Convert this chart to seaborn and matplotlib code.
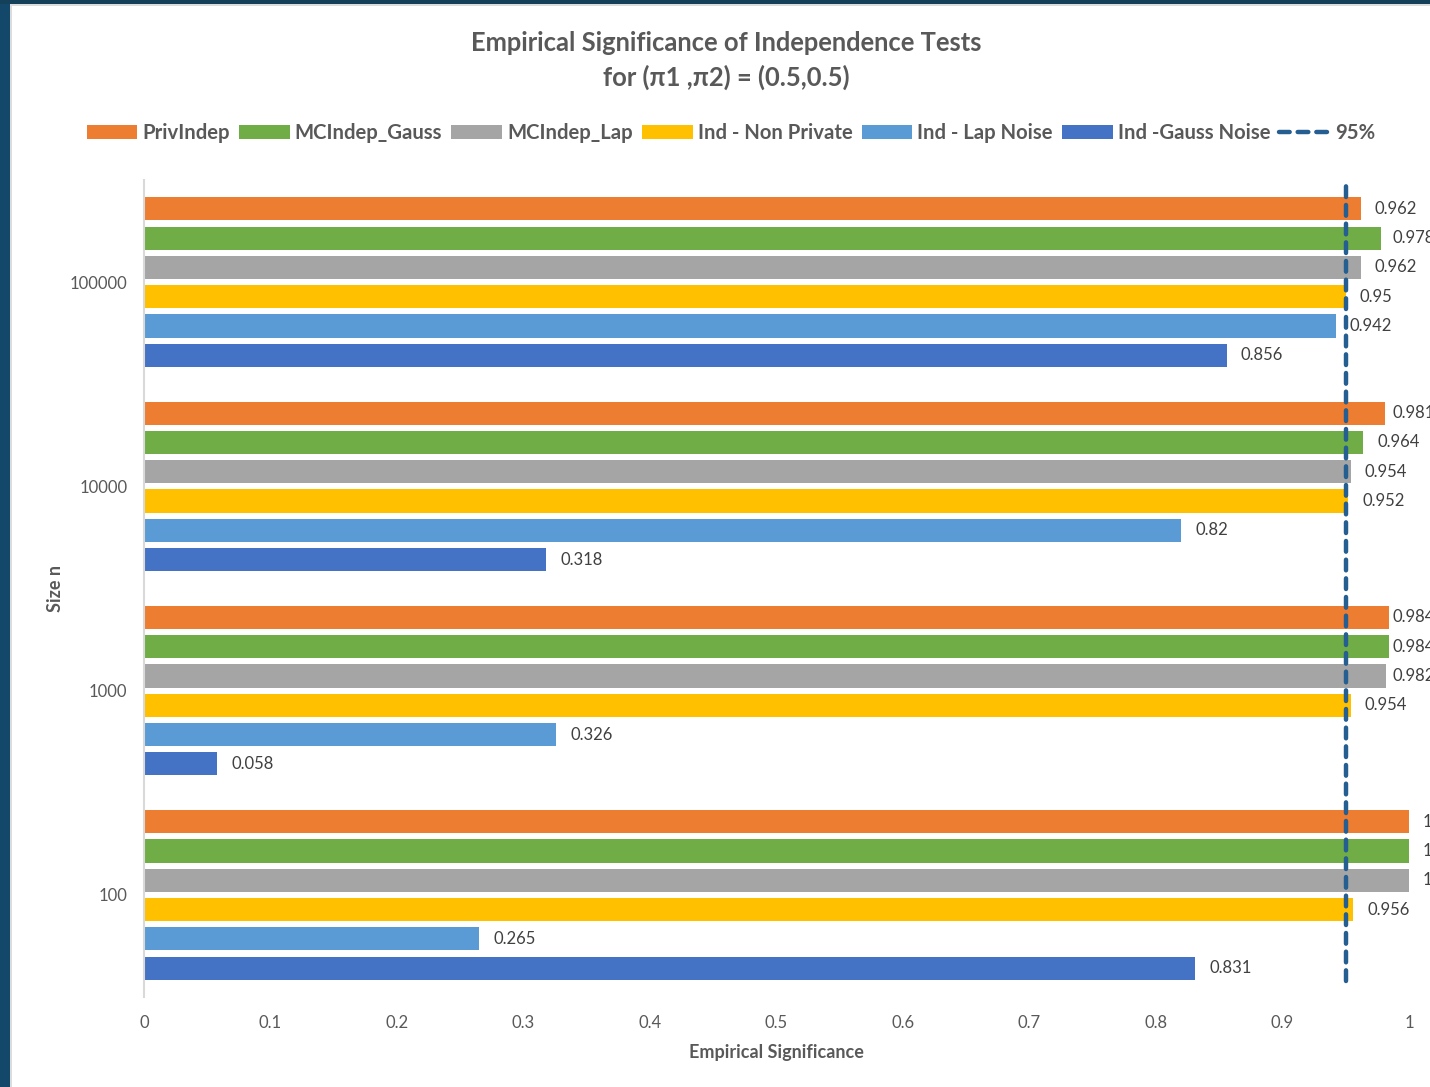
import matplotlib
matplotlib.use("Agg")
import matplotlib.pyplot as plt
from matplotlib.patches import Patch, Rectangle
from matplotlib.lines import Line2D
import seaborn as sns
import pandas as pd

# Sample sizes (one group of bars each, top to bottom)
sizes = ["100000", "10000", "1000", "100"]

# Tests compared, in bar order inside each group
methods = ["PrivIndep", "MCIndep_Gauss", "MCIndep_Lap",
           "Ind - Non Private", "Ind - Lap Noise", "Ind -Gauss Noise"]

# Empirical significance per test, one value per sample size
priv_indep = [0.962, 0.981, 0.984, 1.0]
mc_gauss = [0.978, 0.964, 0.984, 1.0]
mc_lap = [0.962, 0.954, 0.982, 1.0]
ind_nonpriv = [0.95, 0.952, 0.954, 0.956]
ind_lap = [0.942, 0.82, 0.326, 0.265]
ind_gauss = [0.856, 0.318, 0.058, 0.831]

target_level = 0.95
x_ticks = [0, 0.1, 0.2, 0.3, 0.4, 0.5, 0.6, 0.7, 0.8, 0.9, 1]

colors = ["#ED7D31", "#70AD47", "#A5A5A5", "#FFC000", "#5B9BD5", "#4472C4"]
line_color = "#255E91"
text_gray = "#595959"

series = [priv_indep, mc_gauss, mc_lap, ind_nonpriv, ind_lap, ind_gauss]
df = pd.DataFrame(
    [(s, m, v) for m, vals in zip(methods, series) for s, v in zip(sizes, vals)],
    columns=["size", "method", "value"],
)

sns.set_theme(style="white")
plt.rcParams["font.family"] = ["Lato", "DejaVu Sans"]

W, H = 1430, 1087
fig = plt.figure(figsize=(W / 100, H / 100), dpi=100)
ax = fig.add_axes([144 / W, 1 - 997 / H, 1265 / W, 817 / H])

sns.barplot(
    data=df, x="value", y="size", hue="method", orient="h",
    order=sizes, hue_order=methods, palette=colors, saturation=1,
    width=0.86, gap=0.21, linewidth=0, legend=False, ax=ax,
)

labels = []
for cont in ax.containers:
    labels += ax.bar_label(cont, labels=[f"{v:g}" for v in cont.datavalues],
                           padding=10, fontsize=12, color="#404040",
                           clip_on=False)

ax.axvline(target_level, ymin=0.02, ymax=0.996, color=line_color, lw=3.2,
           ls=(0, (2.4, 1.8)), dash_capstyle="round", zorder=5)

ax.set_xlim(0, 1)
ax.set_xticks(x_ticks)
ax.set_xticklabels([f"{t:g}" for t in x_ticks])
ax.tick_params(axis="both", length=0, labelsize=12, labelcolor=text_gray)
ax.tick_params(axis="x", pad=13)
ax.tick_params(axis="y", pad=12)
for side in ["top", "right", "bottom"]:
    ax.spines[side].set_visible(False)
ax.spines["left"].set_color("#D9D9D9")
ax.spines["left"].set_linewidth(1.5)
ax.grid(False)

ax.set_xlabel("Empirical Significance", fontsize=13, fontweight="bold",
              color=text_gray, labelpad=9)
ax.set_ylabel("Size n", fontsize=13, fontweight="bold", color=text_gray,
              labelpad=4)

fig.text(0.508, 1 - 43 / H, "Empirical Significance of Independence Tests",
         ha="center", va="center", fontsize=18.4, fontweight="bold", color=text_gray)
fig.text(0.508, 1 - 77 / H, "for (\u03c01 ,\u03c02) = (0.5,0.5)",
         ha="center", va="center", fontsize=18.4, fontweight="bold", color=text_gray)

handles = [Patch(facecolor=c, edgecolor="none") for c in colors]
handles.append(Line2D([0], [0], color=line_color, lw=3.2, ls=(0, (2.4, 1.8)),
                      dash_capstyle="round"))
leg = fig.legend(handles, methods + ["95%"], loc="center",
                 bbox_to_anchor=(731 / W, 1 - 133 / H), ncol=7, frameon=False,
                 handlelength=2.5, handleheight=0.65, handletextpad=0.25,
                 columnspacing=0.45, fontsize=14.6)
for t in leg.get_texts():
    t.set_color(text_gray)
    t.set_fontweight("bold")

# value labels stay inside the chart area, whose right edge lies past the crop
fig.canvas.draw()
renderer = fig.canvas.get_renderer()
right_limit = 1435
for t in labels:
    bb = t.get_window_extent(renderer)
    excess = bb.x1 - right_limit
    if excess > 0:
        xo, yo = t.xyann
        t.xyann = (xo - excess * 72 / 100, yo)

# window frame around the chart area
fig.add_artist(Rectangle((0, 0), 10 / W, 1, transform=fig.transFigure,
                         facecolor="#14486a", edgecolor="none", zorder=10))
fig.add_artist(Rectangle((0, 1 - 4 / H), 1, 4 / H, transform=fig.transFigure,
                         facecolor="#14405a", edgecolor="none", zorder=10))
fig.add_artist(Rectangle((10 / W, 0), 2 / W, 1 - 4 / H,
                         transform=fig.transFigure, facecolor="#dcdcdc",
                         edgecolor="none", zorder=10))
fig.add_artist(Rectangle((10 / W, 1 - 6 / H), 1, 2 / H,
                         transform=fig.transFigure, facecolor="#dcdcdc",
                         edgecolor="none", zorder=10))

fig.savefig("out.png", dpi=100)
